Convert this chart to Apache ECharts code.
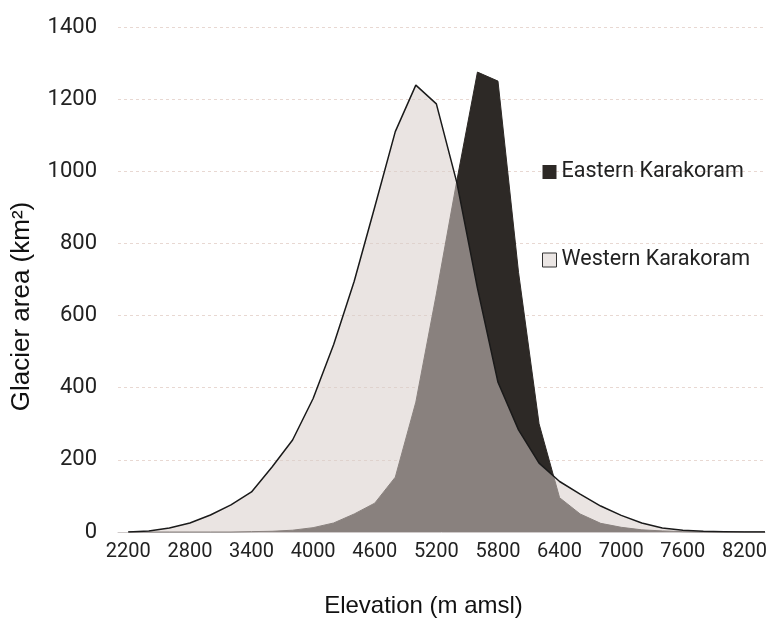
<!DOCTYPE html>
<html>
<head>
<meta charset="utf-8">
<script src="https://cdn.jsdelivr.net/npm/echarts@6/dist/echarts.min.js"></script>
<style>
  html, body { margin: 0; padding: 0; background: #fff; }
  #chart { width: 768px; height: 620px; }
</style>
</head>
<body>
<div id="chart"></div>
<script>
// elevation bins (m amsl)
const elevations = [2200, 2400, 2600, 2800, 3000, 3200, 3400, 3600, 3800, 4000, 4200,
  4400, 4600, 4800, 5000, 5200, 5400, 5600, 5800, 6000, 6200, 6400, 6600, 6800, 7000,
  7200, 7400, 7600, 7800, 8000, 8200, 8400]
// glacier area (km2)
const easternArea = [0, 0, 0, 0, 0, 0, 1, 2, 5, 12, 25,
  50, 80, 152, 360, 660, 975, 1275, 1250, 720, 300, 95, 50, 24, 13,
  6, 3, 1, 0, 0, 0, 0]
const westernArea = [0, 3, 11, 25, 47, 75, 111, 180, 255, 370, 520,
  695, 901, 1110, 1239, 1187, 968, 676, 415, 283, 191, 140, 105, 72, 46,
  25, 11, 5, 2, 1, 0, 0]
const xTicks = [2200, 2800, 3400, 4000, 4600, 5200, 5800, 6400, 7000, 7600, 8200]
const seriesNames = ['Eastern Karakoram', 'Western Karakoram']

const pairs = (vals) => elevations.map((e, i) => [e, vals[i]])

let chart = echarts.init(document.getElementById('chart'))
let option = {
  animation: false,
  grid: {
    left: 118,
    right: 3,
    top: 27,
    bottom: 88,
    outerBoundsMode: 'none'
  },
  legend: {
    orient: 'vertical',
    left: 537,
    top: 156,
    itemWidth: 14,
    itemHeight: 14,
    itemGap: 66,
    textStyle: {
      fontFamily: 'Roboto',
      fontSize: 21.5,
      color: '#222'
    },
    data: [
      { name: seriesNames[0], icon: 'rect', itemStyle: { color: '#2d2926', borderWidth: 0 } },
      { name: seriesNames[1], icon: 'rect', itemStyle: { color: '#ebe6e4', borderColor: '#333', borderWidth: 1 } }
    ]
  },
  xAxis: {
    type: 'value',
    min: 2100,
    max: 8400,
    name: 'Elevation (m amsl)',
    nameLocation: 'middle',
    nameGap: 62,
    nameTextStyle: {
      fontFamily: 'Liberation Sans',
      fontSize: 24,
      color: '#111',
      padding: [0, 36, 0, 0]
    },
    axisLine: {
      show: true,
      lineStyle: { color: '#cfcaca', width: 1 }
    },
    axisTick: { show: false },
    splitLine: { show: false },
    axisLabel: {
      customValues: xTicks,
      margin: 10,
      fontFamily: 'Roboto',
      fontSize: 20,
      color: '#222',
      formatter: (v) => String(v)
    }
  },
  yAxis: {
    type: 'value',
    min: 0,
    max: 1400,
    interval: 200,
    name: 'Glacier area (km²)',
    nameLocation: 'middle',
    nameGap: 83,
    nameTextStyle: {
      fontFamily: 'Liberation Sans',
      fontSize: 26,
      color: '#111',
      padding: [0, 54, 0, 0]
    },
    axisLine: { show: false },
    axisTick: { show: false },
    splitLine: {
      show: true,
      lineStyle: {
        color: '#e8d8d2',
        width: 1,
        type: [3, 3]
      }
    },
    axisLabel: {
      margin: 21,
      fontFamily: 'Roboto',
      fontSize: 22,
      color: '#222',
      formatter: (v) => String(v)
    }
  },
  series: [
    {
      name: seriesNames[0],
      type: 'line',
      data: pairs(easternArea),
      symbol: 'none',
      itemStyle: { color: '#2d2926' },
      lineStyle: { color: '#2d2926', width: 1 },
      areaStyle: { color: '#2d2926', opacity: 1 },
      z: 2
    },
    {
      name: seriesNames[1],
      type: 'line',
      data: pairs(westernArea),
      symbol: 'none',
      itemStyle: { color: '#ebe6e4' },
      lineStyle: { color: '#1a1a1a', width: 1.5 },
      areaStyle: { color: 'rgba(217,206,202,0.54)', opacity: 1 },
      z: 3
    }
  ]
}
chart.setOption(option)
</script>
</body>
</html>
